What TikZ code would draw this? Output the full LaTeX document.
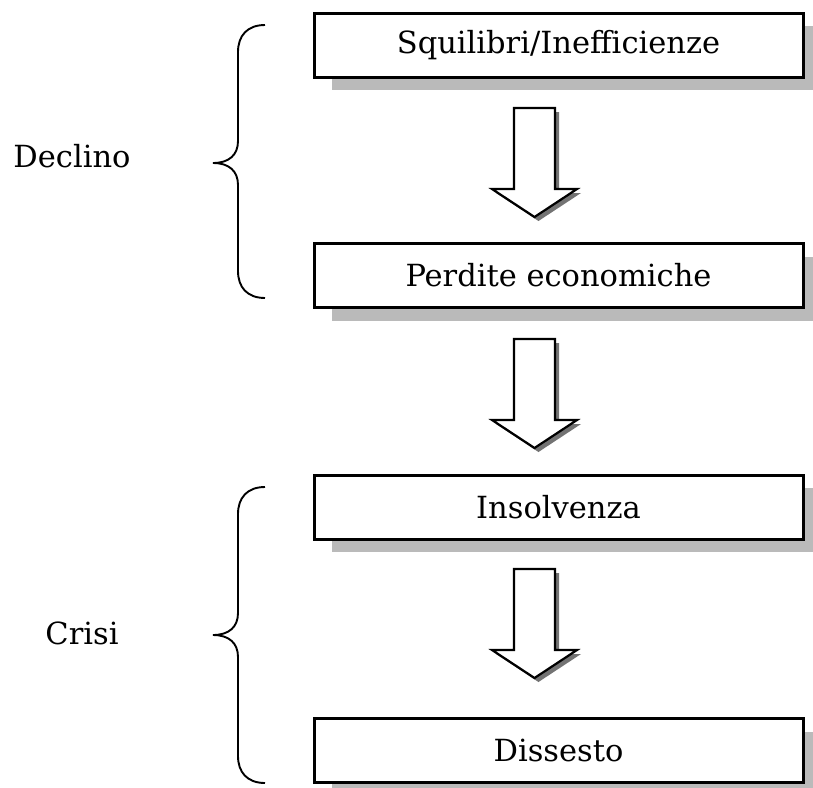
\documentclass[tikz,border=0pt]{standalone}
\usepackage{fontspec}
\setmainfont{DejaVu Serif}
\usetikzlibrary{shadows}
\begin{document}
\begin{tikzpicture}[x=1pt,y=-1pt,
  box/.style={draw=black, line width=3pt, fill=white, minimum width=489pt, minimum height=64pt,
    inner sep=0pt, font=\fontsize{30.5}{36}\selectfont,
    drop shadow={shadow xshift=18pt, shadow yshift=-13pt, fill=black!27, opacity=1}},
  bracestyle/.style={draw=black, line width=1.9pt},
  lab/.style={font=\fontsize{30.5}{36}\selectfont, inner sep=0pt},
  blockarrow/.pic={
    \fill[black!55] (-16.5,4) -- (-16.5,85) -- (-38.5,85) -- (4,113) -- (46.5,85) -- (24.5,85) -- (24.5,4) -- cycle;
    \draw[line width=2.2pt, fill=white, line join=miter]
      (-20.5,0) -- (-20.5,81) -- (-42.5,81) -- (0,109) -- (42.5,81) -- (20.5,81) -- (20.5,0) -- cycle;
  }]
\useasboundingbox (0,0) rectangle (813,787);

\node[box] (b1) at (558.5,45) {Squilibri/Inefficienze};
\node[box] (b2) at (558.5,275.5) {Perdite economiche};
\node[box] (b3) at (558.5,507) {Insolvenza};
\node[box] (b4) at (558.5,750.5) {Dissesto};

\pic at (534.5,108) {blockarrow};
\pic at (534.5,339) {blockarrow};
\pic at (534.5,569) {blockarrow};

% brace 1
\coordinate (t1) at (265,25);
\coordinate (m1) at (213,163);
\coordinate (e1) at (265,298);
\draw[bracestyle] (t1) .. controls (247,25) and (238,36) .. (238,52) -- (238,141)
  .. controls (238,155) and (229,163) .. (m1)
  .. controls (229,163) and (238,171) .. (238,185) -- (238,271)
  .. controls (238,287) and (247,298) .. (e1);
% brace 2
\coordinate (t2) at (265,487);
\coordinate (m2) at (213,635);
\coordinate (e2) at (265,783);
\draw[bracestyle] (t2) .. controls (247,487) and (238,498) .. (238,514) -- (238,613)
  .. controls (238,627) and (229,635) .. (m2)
  .. controls (229,635) and (238,643) .. (238,657) -- (238,756)
  .. controls (238,772) and (247,783) .. (e2);

\node[lab, anchor=base] (l1) at (72,167) {Declino};
\node[lab, anchor=base] (l2) at (82,644) {Crisi};
\end{tikzpicture}
\end{document}
